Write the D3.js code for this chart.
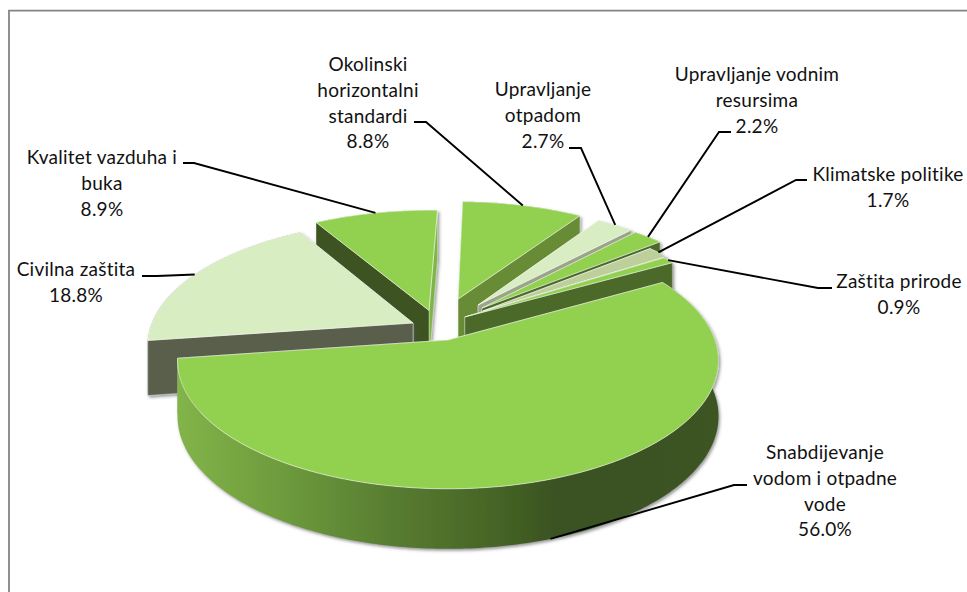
<!DOCTYPE html>
<html><head><meta charset="utf-8">
<script src="https://cdn.jsdelivr.net/npm/d3@7"></script>
<style>html,body{margin:0;padding:0;background:#fff}svg{display:block}</style>
</head><body><svg id="c" width="967" height="592"></svg>
<script>
// --- data (percent), clockwise from the start of the pie
const categories = ["Snabdijevanje vodom i otpadne vode","Civilna zaštita","Kvalitet vazduha i buka","Okolinski horizontalni standardi","Upravljanje otpadom","Upravljanje vodnim resursima","Klimatske politike","Zaštita prirode"];
const values = [56.0,18.8,8.9,8.8,2.7,2.2,1.7,0.9];
const labelLines = [["Snabdijevanje","vodom i otpadne","vode"],["Civilna zaštita"],["Kvalitet vazduha i","buka"],["Okolinski","horizontalni","standardi"],["Upravljanje","otpadom"],["Upravljanje vodnim","resursima"],["Klimatske politike"],["Zaštita prirode"]];
// --- styling
const topColors = ["#92d050","#d9edc3","#92d050","#92d050","#d9edc3","#92d050","#bdd09b","#92d050"];
const startWall = ["#5f8a35","#5a5f4c","#3d5220","#7fb547","#9aa58a","#4c6a2a","#c9cdbd","#4c6a2a"];
const endWall   = ["#3a5220","#5a5f4c","#7fb547","#688c36","#9aa58a","#4c6a2a","#a8a89a","#4c6a2a"];
// --- layout: per-slice explosion in pie radii, label placement
const shiftX = [0,-0.134,-0.074,0.040,0.118,0.133,0.136,0.065];
const shiftY = [0,0.139,0.246,0.346,0.293,0.267,0.241,0.190];
const radiusScale = [1,1,1,1,1,1,0.93,1];
const labelX = [825,76,102,368,543,757,888,899];
const labelY = [459,276,164,71,96,81,181,288];
const elbowX = [734,157,194,426,581,719,796,818];
const elbowY = [485,276,163,122,148,132,180,288];
const tailX  = [747,142,183,414,569,731,807,832];
const startDeg = 60.2;

const cx=448, cy=340, R0=267, tR=125, persp=0.16, depth=55, lineH=25.8;

function proj(X,Y,z){
  const f=1/(1+persp*Y);
  return [cx+R0*X*f, cy-tR*Y*f+z*depth*Math.sqrt(f)];
}
const svg=d3.select("#c");
const defs=svg.append("defs");
const fl=defs.append("filter").attr("id","sh").attr("x","-10%").attr("y","-10%").attr("width","120%").attr("height","120%");
fl.append("feDropShadow").attr("dx",1.5).attr("dy",2).attr("stdDeviation",1.4).attr("flood-color","#555").attr("flood-opacity",0.6);
const gr=defs.append("linearGradient").attr("id","rim").attr("gradientUnits","userSpaceOnUse").attr("x1",178).attr("x2",718).attr("y1",0).attr("y2",0);
[[0,"#82b449"],[0.2,"#6d9a3c"],[0.4,"#577c31"],[0.6,"#456325"],[0.7,"#3a5220"],[1,"#3c5421"]].forEach(s=>gr.append("stop").attr("offset",s[0]).attr("stop-color",s[1]));

// frame
svg.append("path").attr("d",d3.line()([[9,592],[9,10.7],[967,10.7]])).attr("fill","none").attr("stroke","#848484").attr("stroke-width",1.8);

const pie=d3.pie().sort(null).startAngle(startDeg*Math.PI/180).endAngle(startDeg*Math.PI/180+2*Math.PI);
const arcs=pie(values).map((d,i)=>{
  const rs=radiusScale[i], sx=shiftX[i], sy=shiftY[i];
  const w=(a)=>[sx+rs*Math.sin(a), sy+rs*Math.cos(a)];
  const mid=(d.startAngle+d.endAngle)/2;
  return {i,a0:d.startAngle,a1:d.endAngle,mid,w,sx,sy,midY:w(mid)[1]};
});
const line=d3.line();
const order=arcs.slice().sort((a,b)=>d3.descending(a.midY,b.midY));
const layer=svg.append("g");
order.forEach(s=>{
  const g=layer.append("g").attr("filter","url(#sh)");
  const n=Math.max(4,Math.ceil((s.a1-s.a0)/0.015));
  const ang=d3.range(n+1).map(k=>s.a0+(s.a1-s.a0)*k/n);
  const rimTop=ang.map(a=>{const p=s.w(a);return proj(p[0],p[1],0);});
  const rimBot=ang.map(a=>{const p=s.w(a);return proj(p[0],p[1],1);}).reverse();
  const at=proj(s.sx,s.sy,0), ab=proj(s.sx,s.sy,1);
  const p0=s.w(s.a0), p1=s.w(s.a1);
  const t0=proj(p0[0],p0[1],0), b0=proj(p0[0],p0[1],1);
  const t1=proj(p1[0],p1[1],0), b1=proj(p1[0],p1[1],1);
  const edge="rgba(255,255,255,0.7)";
  const drawRim=()=>g.append("path").attr("d",line(rimTop.concat(rimBot))+"Z").attr("fill",s.i===0?"url(#rim)":endWall[s.i]);
  const drawEnd=()=>g.append("path").attr("d",line([at,t1,b1,ab])+"Z").attr("fill",endWall[s.i]).attr("stroke",edge).attr("stroke-width",0.5);
  const drawStart=()=>g.append("path").attr("d",line([at,t0,b0,ab])+"Z").attr("fill",startWall[s.i]).attr("stroke",edge).attr("stroke-width",0.5);
  // back faces first: the wall whose outer end is nearer the viewer goes on top
  if(s.i!==0) drawRim();
  if(t0[1]>t1[1]){drawEnd();drawStart();}else{drawStart();drawEnd();}
  if(s.i===0) drawRim();
  g.append("path").attr("d",line([at].concat(rimTop))+"Z").attr("fill",topColors[s.i]).attr("stroke",edge).attr("stroke-width",0.8).attr("stroke-linejoin","round");
  s.anchor=(()=>{const p=s.w(s.mid);return proj(p[0],p[1],s.i===0?1:0);})();
});

// leaders + labels
const fmt=d3.format(".1f");
arcs.forEach(s=>{
  const i=s.i;
  svg.append("path").attr("d",line([[tailX[i],elbowY[i]],[elbowX[i],elbowY[i]],s.anchor]))
    .attr("fill","none").attr("stroke","#000").attr("stroke-width",1.9);
  const t=svg.append("text").attr("text-anchor","middle").attr("font-family","Lato, 'Open Sans', sans-serif").attr("font-size",19).attr("letter-spacing",0.25).attr("fill","#111");
  labelLines[i].concat([fmt(values[i])+"%"]).forEach((l,k)=>{
    t.append("tspan").attr("x",labelX[i]).attr("y",labelY[i]+k*lineH).text(l);
  });
});
</script></body></html>
